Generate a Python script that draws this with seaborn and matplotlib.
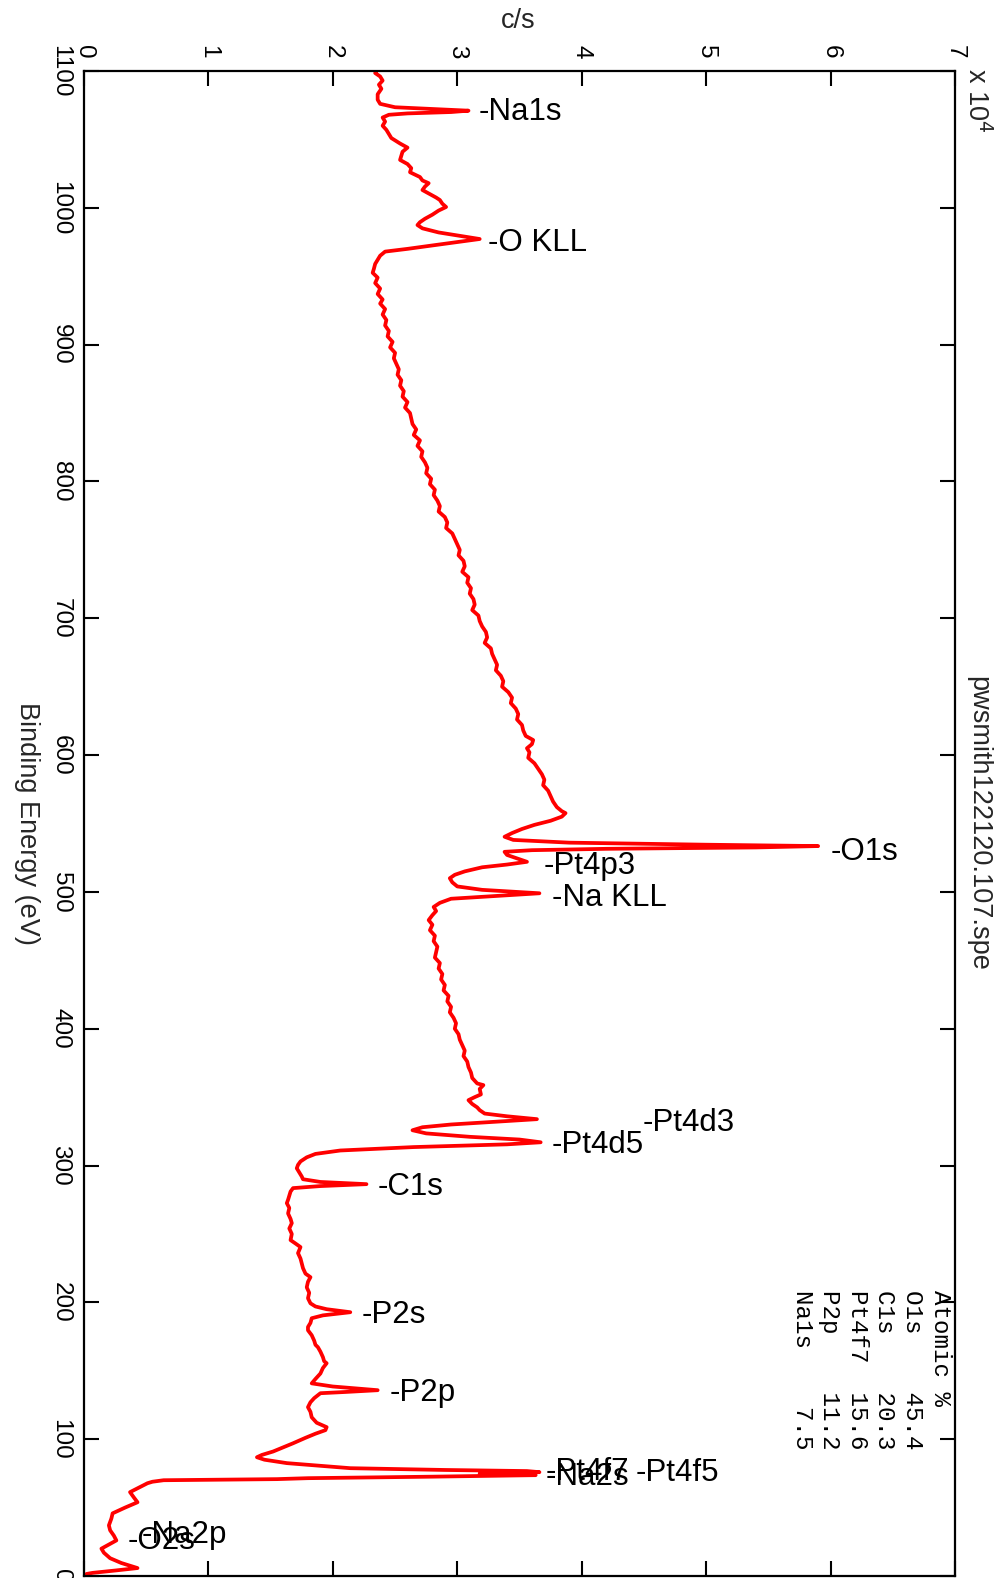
import matplotlib
matplotlib.use("Agg")
import matplotlib.pyplot as plt
import pandas as pd
import seaborn as sns

# XPS survey spectrum: binding energy (eV) and intensity (c/s, in units of 1e4)
energy_ev = [
    1100, 1098.5, 1096, 1093, 1090, 1087, 1083, 1079, 1076, 1073.5, 1072, 1071, 1070, 1069, 1068,
    1066, 1063, 1060, 1057, 1054, 1051, 1047, 1044, 1041, 1038, 1035, 1032, 1029, 1026, 1022.5,
    1020, 1018, 1015.5, 1013, 1010, 1007.5, 1005.7, 1003, 1000.6, 998, 995, 992, 989.5, 987.4,
    985, 982, 979.5, 977.2, 975, 972.5, 970, 968, 965, 962, 959, 955.5, 952.5, 949, 945, 941,
    937, 933, 930, 926, 922, 918, 914, 910, 906, 902, 898, 894, 890, 886, 882, 878, 874, 870,
    866, 862, 858, 854, 850, 846, 842, 838, 834, 830, 826, 822, 818, 814, 810, 806, 802, 798,
    794, 790, 786, 782, 778, 774, 770, 766, 762, 758, 754, 750, 746, 742, 738, 734, 730, 726,
    722, 718, 714, 710, 706, 702, 698, 694, 690, 686, 682, 678, 674, 670, 666, 662, 658, 654,
    650, 646, 642, 638, 634, 630, 626, 622, 618, 614, 611, 608, 605, 602, 598, 594, 590, 586,
    582, 578, 574, 570, 566, 562, 559, 557.6, 555, 552, 549, 546, 543, 540.3, 538, 536, 534.5,
    533.5, 532.5, 531.5, 530.5, 529.3, 527, 524.5, 522, 520, 518, 515, 512.5, 510, 507, 504,
    501.5, 499, 497, 495, 492, 489, 486, 483, 479.4, 476, 472, 468, 464, 460, 456, 452, 448,
    444, 440, 436, 432, 428, 424, 420, 416, 412, 408, 404, 400, 396, 392, 388, 384, 380, 376,
    372, 368, 364, 360, 358.8, 356, 352, 350, 347.8, 345, 342.5, 340.5, 338, 336, 333.9, 332,
    330, 328, 325.8, 323.5, 321, 319, 317, 315.5, 313.5, 311, 308.5, 306, 303, 300.5, 298, 295,
    292, 290, 288, 286.4, 285, 283.5, 281, 278, 275, 272.5, 269, 265, 261, 257.9, 254, 250,
    245.5, 243, 240.4, 236, 232, 228.6, 225, 221, 218.4, 215, 211, 207, 203, 199.3, 197, 195,
    192.8, 190.5, 188.4, 185, 182, 179.6, 176, 172, 169, 167.2, 164, 160, 157, 155.5, 152, 148,
    144, 140.8, 138.5, 135.8, 134.5, 133.6, 130, 127, 123.4, 120, 116, 112, 108.8, 106.6, 104,
    101, 97, 94, 91, 88.5, 86.8, 85, 82.5, 80.5, 78.8, 77.5, 76.7, 75.9, 74.8, 73.7, 72.6, 71.5,
    70.8, 70, 68.9, 67.8, 65, 61.3, 57.5, 53.9, 50, 45.8, 42, 37, 33.4, 29.5, 26, 23, 20, 17,
    13, 9.5, 5.8, 4, 2.3, 1.5, 0.5,
]
counts_1e4 = [
    2.35, 2.34, 2.38, 2.40, 2.37, 2.39, 2.36, 2.36, 2.38, 2.50, 2.85, 3.09, 2.95, 2.60, 2.45,
    2.40, 2.42, 2.40, 2.43, 2.45, 2.47, 2.54, 2.60, 2.56, 2.55, 2.54, 2.60, 2.63, 2.62, 2.70,
    2.72, 2.77, 2.74, 2.72, 2.78, 2.83, 2.86, 2.88, 2.91, 2.85, 2.80, 2.74, 2.70, 2.68,
    2.72, 2.85, 3.02, 3.18, 3.00, 2.80, 2.60, 2.42, 2.38, 2.36, 2.34, 2.33, 2.32, 2.36, 2.34, 2.38,
    2.36, 2.40, 2.38, 2.42, 2.40, 2.43, 2.42, 2.45, 2.44, 2.48, 2.46, 2.50, 2.49, 2.51, 2.53, 2.52, 2.55, 2.54,
    2.57, 2.56, 2.60, 2.58, 2.62, 2.63, 2.64, 2.67, 2.65, 2.70, 2.68, 2.72, 2.71, 2.74, 2.76, 2.75, 2.79, 2.78,
    2.82, 2.81, 2.84, 2.86, 2.85, 2.90, 2.92, 2.91, 2.96, 2.98, 3.00, 3.02, 3.01, 3.05, 3.06, 3.04, 3.09, 3.08,
    3.11, 3.10, 3.13, 3.14, 3.12, 3.17, 3.18, 3.20, 3.23, 3.24, 3.22, 3.27, 3.28, 3.30, 3.32, 3.31, 3.35, 3.37,
    3.36, 3.41, 3.44, 3.43, 3.47, 3.49, 3.48, 3.52, 3.53, 3.55, 3.61, 3.60, 3.56, 3.58, 3.57, 3.62, 3.65, 3.68,
    3.70, 3.69, 3.73, 3.75, 3.77, 3.80, 3.84, 3.87, 3.84, 3.75, 3.62, 3.52, 3.44, 3.38, 3.45, 3.90, 5.00,
    5.90, 5.40, 4.20, 3.60, 3.38, 3.40, 3.48, 3.56, 3.40, 3.20, 3.06, 2.98, 2.94, 2.96, 3.00,
    3.20, 3.66, 3.30, 2.95, 2.86, 2.81, 2.83, 2.80, 2.77, 2.80, 2.78, 2.82, 2.81, 2.84, 2.83, 2.82, 2.86,
    2.85, 2.88, 2.87, 2.90, 2.89, 2.93, 2.92, 2.95, 2.94, 2.97, 2.99, 2.98, 3.01, 3.02, 3.04, 3.06, 3.05, 3.08,
    3.09, 3.11, 3.12, 3.16, 3.21, 3.18, 3.19, 3.14, 3.09, 3.12, 3.16, 3.18, 3.22, 3.40, 3.64, 3.30,
    2.95, 2.72, 2.64, 2.75, 3.10, 3.50, 3.67, 3.40, 2.65, 2.06, 1.86, 1.79, 1.74, 1.72, 1.71, 1.73,
    1.75, 1.76, 1.90, 2.27, 1.90, 1.68, 1.66, 1.65, 1.64, 1.63, 1.65, 1.64, 1.66, 1.67, 1.65, 1.67,
    1.66, 1.70, 1.74, 1.72, 1.74, 1.75, 1.76, 1.78, 1.82, 1.80, 1.79, 1.81, 1.80, 1.82, 1.86, 1.95,
    2.14, 1.92, 1.83, 1.82, 1.80, 1.80, 1.83, 1.85, 1.86, 1.88, 1.90, 1.92, 1.93, 1.95, 1.92, 1.90,
    1.86, 1.83, 2.00, 2.36, 2.10, 1.90, 1.85, 1.82, 1.80, 1.82, 1.83, 1.87, 1.95, 1.94, 1.86,
    1.78, 1.68, 1.60, 1.52, 1.43, 1.39, 1.45, 1.63, 1.90, 2.14, 2.90, 3.56, 3.66, 3.18, 3.63, 2.80, 1.80,
    1.55, 0.64, 0.55, 0.51, 0.45, 0.37, 0.40, 0.43, 0.33, 0.23, 0.22, 0.20, 0.21, 0.24, 0.26, 0.20, 0.14, 0.16,
    0.21, 0.30, 0.43, 0.25, 0.07, 0.02, 0.02,
]

# Peak identifications and where their tags are written (energy, c/s x 1e4)
peak_names = ["Na1s", "O KLL", "O1s", "Pt4p3", "Na KLL", "Pt4d3", "Pt4d5", "C1s",
              "P2s", "P2p", "Pt4f7", "Na2s", "Pt4f5", "Na2p", "O2s"]
tag_energy = [1070.0, 974.3, 529.1, 518.9, 495.5, 331.0, 315.0, 284.2,
              190.6, 133.6, 75.9, 72.3, 75.1, 29.8, 25.4]
tag_counts = [3.17, 3.25, 6.0, 3.69, 3.76, 4.49, 3.76, 2.36,
              2.23, 2.46, 3.71, 3.71, 4.43, 0.46, 0.35]

# Quantification table
quant_elements = ["O1s", "C1s", "Pt4f7", "P2p", "Na1s"]
quant_atomic = [45.4, 20.3, 15.6, 11.2, 7.5]

count_ticks = list(range(0, 8))
energy_ticks = list(range(0, 1101, 100))

sns.set_style("ticks")
plt.rcParams["font.family"] = ["Liberation Sans", "DejaVu Sans"]

W, H = 1001, 1578
fig = plt.figure(figsize=(W / 100, H / 100), dpi=100)
ax = fig.add_axes([84 / W, 2 / H, 871 / W, 1505 / H])

df = pd.DataFrame({"energy": energy_ev, "counts": counts_1e4})
sns.lineplot(data=df, x="counts", y="energy", sort=False, estimator=None,
             color="#ff0000", linewidth=2.7, ax=ax)

ax.set_xlim(0, 7)
ax.set_ylim(0, 1100)
ax.set_xticks(count_ticks)
ax.set_yticks(energy_ticks)
ax.set_xlabel("")
ax.set_ylabel("")
for s in ax.spines.values():
    s.set_linewidth(1.6)
    s.set_color("black")

ax.tick_params(axis="both", direction="in", length=10.5, width=1.5,
               top=True, bottom=True, left=True, right=True,
               labeltop=True, labelbottom=False, labelleft=True, labelright=False,
               labelsize=17.5, pad=9, colors="black")
for lbl in ax.get_xticklabels():
    lbl.set_rotation(-90)
    lbl.set_ha("center")
    lbl.set_va("bottom")
for lbl in ax.get_yticklabels():
    lbl.set_rotation(-90)
    lbl.set_ha("right")
    lbl.set_va("center")

# Peak tags
for name, e, c in zip(peak_names, tag_energy, tag_counts):
    ax.text(c, e, "-" + name, fontsize=22.5, ha="left", va="center", color="black")

# Axis titles, scale factor and file name
fig.text(518 / W, 1 - 21 / H, "c/s", fontsize=19.5, ha="center", va="center")
fig.text(27 / W, 1 - 823 / H, "Binding Energy (eV)", fontsize=19.5, rotation=-90,
         ha="center", va="center")
fig.text(978 / W, 1 - 823 / H, "pwsmith122120.107.spe", fontsize=19.5, rotation=-90,
         ha="center", va="center")
fig.text(962 / W, 1 - 68 / H, r"x 10$^4$", fontsize=19.5, rotation=-90,
         ha="left", va="top")

# Atomic concentration table
rows = ["Atomic %"] + [f"{n:<7}{v:>4.1f}" for n, v in zip(quant_elements, quant_atomic)]
for i, row in enumerate(rows):
    fig.text((940 - 27.6 * i) / W, 1 - 1290 / H, row, fontsize=17.4,
             family=["Liberation Mono", "DejaVu Sans Mono"], rotation=-90,
             ha="center", va="top", color="black")

fig.savefig("out.png", dpi=100)
